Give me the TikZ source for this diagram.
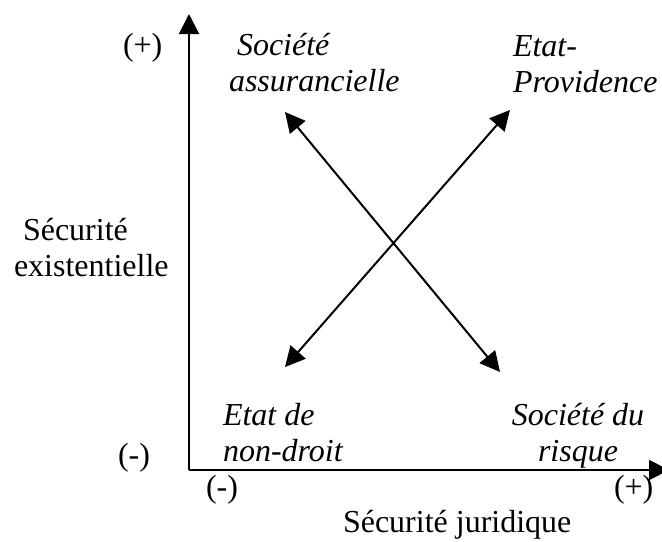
\documentclass[tikz,border=0pt]{standalone}
\usepackage{fontspec}
\setmainfont{Liberation Serif}
\usetikzlibrary{arrows.meta}

\begin{document}
\begin{tikzpicture}[x=0.5pt,y=-0.5pt,>={Triangle[length=10pt,width=10pt]},line width=1pt,line join=round,
	font=\fontsize{16}{18}\selectfont,
	lbl/.style={inner sep=0pt,anchor=base west,align=left},
	cas/.style={lbl,font=\fontsize{16}{18}\selectfont\itshape}]
	\useasboundingbox (0,0) rectangle (662,541);
	%
	\coordinate (O) at (189,470);
	\coordinate (ytip) at (189,14);
	\coordinate (xtip) at (669,470);
	\draw [->] (O)--(ytip);
	\draw [->] (O)--(xtip);
	%
	\coordinate (nw) at (285,112);
	\coordinate (se) at (500,372);
	\coordinate (sw) at (285,367);
	\coordinate (ne) at (510,110);
	\draw [<->] (nw)--(se);
	\draw [<->] (sw)--(ne);
	%
	\node [lbl] (plusY) at (122,55) {(+)};
	\node [lbl] (minusY) at (117,465) {(-)};
	\node [lbl] (minusX) at (205,497) {(-)};
	\node [lbl] (plusX) at (613,497) {(+)};
	\node [lbl] (juri) at (342,532) {Sécurité juridique};
	\node [lbl] (exist) at (13,276) {\hspace{4.5pt}Sécurité\\existentielle};
	%
	\node [cas] (assur) at (228,91) {\hspace{4pt}Société\\assurancielle};
	\node [cas] (provid) at (512,92) {Etat-\\Providence};
	\node [cas] (nondroit) at (222,461) {Etat de\\non-droit};
	\node [cas,anchor=base,align=center] (risque) at (578,461) {Société du\\risque};
\end{tikzpicture}
\end{document}
